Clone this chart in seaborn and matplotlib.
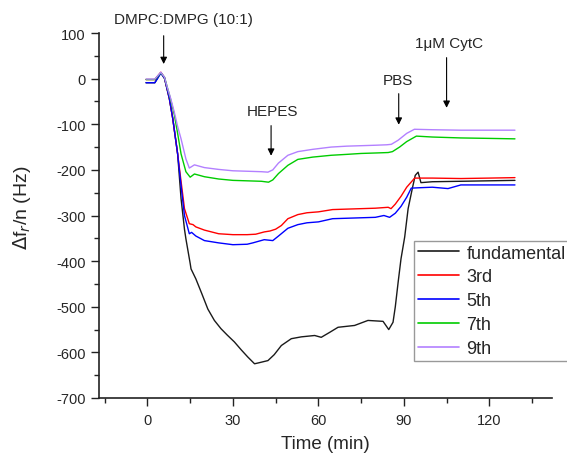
import numpy as np
import pandas as pd
from matplotlib import pyplot as plt
from matplotlib.ticker import MultipleLocator
import seaborn as sns

# QCM-D frequency traces
t_fund = [-0.5, 2.6, 4.7, 6, 7.7, 8.9, 10.6, 11.8, 13, 13.5, 15, 15.3, 17, 19, 21.2, 23.5, 25.8, 28, 30.5, 33,
          35.2, 37.6, 39, 42.3, 44.5, 47, 50.5, 54, 58.7, 61, 64, 66.9, 72.7, 77.4, 82.7, 84.7, 86.2, 87, 88, 89,
          90.3, 91.5, 93, 94, 95, 96, 100, 110, 129]
f_fund = [-9, -9, 13, 0, -44, -88, -165, -263, -330, -351, -405, -417, -439, -470, -505, -530, -548, -562, -577, -595,
          -610, -625, -623, -618, -605, -585, -570, -566, -563, -567, -556, -545, -541, -530, -532, -550, -534, -500, -446, -395,
          -347, -285, -240, -212, -205, -228, -226, -225, -223]

t_3rd = [-0.5, 2.6, 4.7, 6, 7.7, 8.9, 10.6, 11.8, 13, 14.7, 16, 17, 20, 25, 30, 35, 38, 41, 43, 45, 47, 49.3,
         52.8, 56, 60, 65, 70, 75, 80, 84.5, 85.5, 87, 89, 91, 93.8, 100, 110, 120, 129]
f_3rd = [-2, -2, 14, 2, -44, -88, -165, -225, -285, -318, -320, -325, -332, -340, -342, -342, -341, -336, -334, -330, -322, -307,
         -298, -294, -292, -287, -286, -285, -284, -282, -285, -275, -258, -238, -218, -218, -219, -218, -217]

t_5th = [-0.5, 2.6, 4.7, 6, 7.7, 8.9, 10.6, 11.8, 13, 14.7, 15.5, 17, 20, 25, 30, 35, 37, 41, 44, 46, 49.3,
         52.8, 56, 60, 65, 70, 75, 80, 83, 85, 87, 89, 91, 92.6, 96, 100, 105.5, 110, 120, 129]
f_5th = [-9, -9, 12, 1, -44, -88, -165, -235, -300, -340, -337, -345, -355, -360, -364, -363, -360, -353, -355, -345, -328,
         -320, -316, -314, -307, -306, -305, -304, -300, -304, -295, -280, -260, -240, -239, -238, -241, -233, -233, -233]

t_7th = [-0.5, 2.6, 4.7, 6, 7.1, 8, 9.4, 10.6, 11.8, 13.5, 15, 16.5, 20, 25, 30, 35, 40, 42.5, 44, 46, 49.3,
         52.8, 58, 64.5, 70, 75, 80, 84.5, 86, 88.5, 91, 94.4, 100, 110, 120, 129]
f_7th = [-2, -2, 13, 3, -22, -42, -78, -120, -165, -204, -216, -209, -215, -220, -223, -224, -225, -227, -222, -208, -190,
         -177, -172, -168, -166, -164, -163, -162, -160, -150, -138, -126, -128, -130, -131, -132]

t_9th = [-0.5, 2.6, 4.7, 6, 7.1, 8, 9.4, 10.6, 11.8, 13.5, 14.7, 16.5, 20, 25, 30, 35, 40, 42.3, 44, 46, 49.3,
         52.8, 58, 64.5, 70, 75, 80, 84, 85.6, 88, 91, 93.7, 100, 110, 120, 129]
f_9th = [-1, -1, 14, 3, -22, -40, -73, -105, -132, -176, -196, -189, -195, -199, -202, -203, -204, -205, -200, -185, -168,
         -160, -155, -150, -148, -147, -146, -145, -144, -135, -120, -111, -112, -113, -113, -113]

labels = ['fundamental', '3rd', '5th', '7th', '9th']
colors = ['#1a1a1a', '#ff0000', '#0000ff', '#00cc00', '#b380ff']

# injection markers
events = ['DMPC:DMPG (10:1)', 'HEPES', 'PBS', '1\u03bcM CytC']
event_t = [5.7, 43.4, 88.2, 105]

frames = []
for lab, tt, ff in zip(labels, [t_fund, t_3rd, t_5th, t_7th, t_9th], [f_fund, f_3rd, f_5th, f_7th, f_9th]):
    frames.append(pd.DataFrame({'time': tt, 'df': ff, 'overtone': lab}))
df = pd.concat(frames, ignore_index=True)

sns.set_style('ticks')
plt.rcParams['font.family'] = ['Liberation Sans', 'DejaVu Sans']
plt.rcParams['axes.unicode_minus'] = False

fig = plt.figure(figsize=(5.67, 4.56), dpi=100)
ax = fig.add_axes([99 / 567, 1 - 399 / 456, 453 / 567, 365 / 456])

sns.lineplot(data=df, x='time', y='df', hue='overtone', hue_order=labels, palette=colors,
             estimator=None, sort=False, linewidth=1.0, ax=ax, legend=True)

ax.set_xlim(-17, 142)
ax.set_ylim(-700, 100)
ax.xaxis.set_major_locator(MultipleLocator(30))
ax.xaxis.set_minor_locator(MultipleLocator(15))
ax.yaxis.set_major_locator(MultipleLocator(100))
ax.yaxis.set_minor_locator(MultipleLocator(50))
ax.tick_params(which='major', direction='out', length=6, width=1, labelsize=10.5, color='#222222', pad=3.5)
ax.tick_params(axis='x', which='major', pad=4.5)
ax.tick_params(which='minor', direction='out', length=3.5, width=1, color='#222222')
sns.despine(ax=ax)
for s in ['left', 'bottom']:
    ax.spines[s].set_linewidth(1.2)
    ax.spines[s].set_color('#222222')

ax.set_xlabel('Time (min)', fontsize=13.5)
ax.set_ylabel('$\\Delta$f$_r$/n (Hz)', fontsize=14)
ax.xaxis.set_label_coords(0.5, (399 - 436) / 365)
ax.yaxis.set_label_coords((33 - 99) / 453, (399 - 208) / 365)

# annotations
text_pos = [(12.8, 130), (43.8, -71), (88, -2), (105.9, 77)]
arrow_y = [(94, 32), (-103, -169), (-33, -101), (46, -64)]
for name, tx, (px, py), (y0, y1) in zip(events, event_t, text_pos, arrow_y):
    ax.text(px, py, name, ha='center', va='center', fontsize=11, clip_on=False)
    ax.annotate('', xy=(tx, y1), xytext=(tx, y0),
                arrowprops=dict(arrowstyle='-|>', color='black', lw=0.8, mutation_scale=10,
                                shrinkA=0, shrinkB=0), annotation_clip=False)

leg = ax.legend(loc='upper left', bbox_to_anchor=(414 / 567, 1 - 242 / 456), bbox_transform=fig.transFigure,
                borderaxespad=0, frameon=True, fancybox=False, edgecolor='#808080', fontsize=13,
                handlelength=2.3, handletextpad=0.4, labelspacing=0.38, borderpad=0.2, title=None)
leg.get_frame().set_linewidth(1.0)
for line in leg.get_lines():
    line.set_linewidth(1.2)

fig.savefig('out.png', dpi=100)
